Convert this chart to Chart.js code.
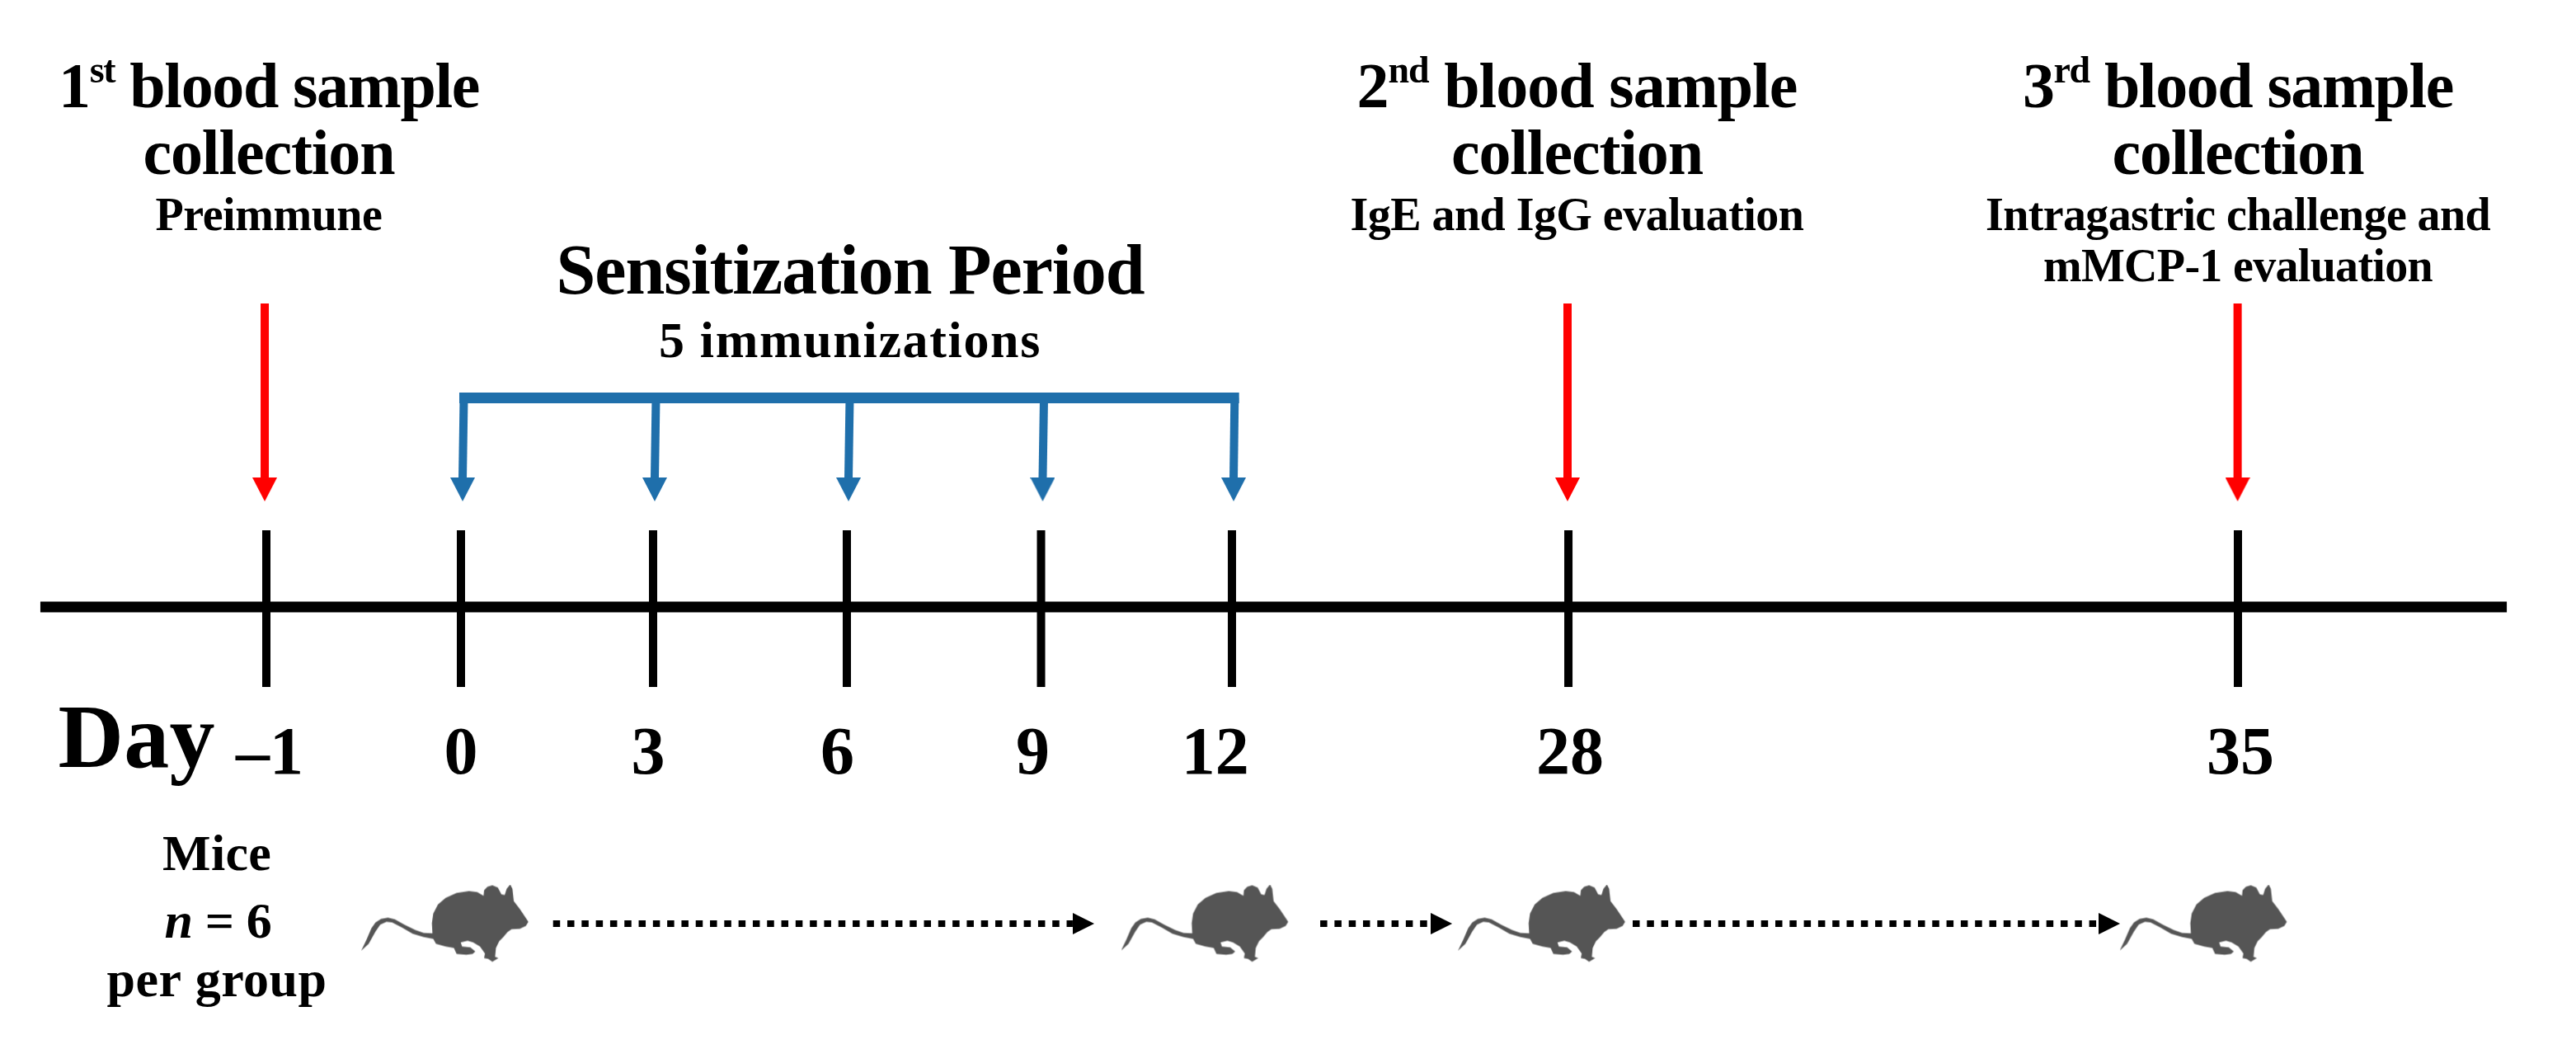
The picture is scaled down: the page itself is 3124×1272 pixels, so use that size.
<!DOCTYPE html>
<html>
<head>
<meta charset="utf-8">
<title>Immunization timeline</title>
<script src="https://cdn.jsdelivr.net/npm/chart.js@4"></script>
<style>
  html, body { margin: 0; padding: 0; background: #fff; }
  canvas { display: block; }
</style>
</head>
<body>
<canvas id="timeline" width="3124" height="1272"></canvas>
<script>
// Days on the timeline. The axis is not to scale, so each day has a slot (1 slot = spacing of 3 days)
const dayLabels = ['\u20131', '0', '3', '6', '9', '12', '28', '35'];
const daySlots = [-1.0096, 0, 0.9968, 2.002, 3.0096, 4, 5.7455, 9.219];
const dayLabelSlots = [-0.9925, 0, 0.971, 1.9525, 2.967, 3.913, 5.754, 9.232];

// Blood samples (red arrows) and immunizations (blue arrows)
const sampleSlots = [-1.018, 5.741, 9.2174];
const doseTopSlots = [0.015, 1.0118, 2.0171, 3.0246, 4.014];
const doseTipSlots = [0.0086, 1.0053, 2.0107, 3.018, 4.0086];

// Mice and the dotted arrows between them
const mouseSlots = [-0.081, 3.861, 5.609, 9.042];
const dottedFrom = [0.478, 4.458, 6.079];
const dottedTo = [3.174, 5.031, 8.496];
const dottedHeads = [3.23, 5.087, 8.552];

const sampleTitles = [['blood sample', 'collection'], ['blood sample', 'collection'], ['blood sample', 'collection']];
const sampleOrdinals = [['1', 'st'], ['2', 'nd'], ['3', 'rd']];
const sampleNotes = [['Preimmune'], ['IgE and IgG evaluation'], ['Intragastric challenge and', 'mMCP-1 evaluation']];
const periodTitle = 'Sensitization Period';
const periodNote = '5 immunizations';
const dayTitle = 'Day';
const miceLines = ['Mice', ['n', ' = 6'], 'per group'];

const SERIF = '"Liberation Serif", serif';
const RED = '#ff0000', BLUE = '#1f6fab', MOUSE = '#555555';

// outline of the mouse at 3x
const mouseOutline = [[153,1000],[172,960],[190,918],[205,897],[225,884],[250,880],[275,886],[310,905],[350,925],[380,935],[412,937],[410,900],[415,865],[432,832],[460,808],[500,790],[545,783],[575,787],[598,800],[600,780],[612,767],[630,762],[650,770],[663,795],[675,797],[682,775],[695,759],[703,775],[708,820],[730,848],[748,875],[761,895],[752,910],[730,920],[700,922],[685,932],[670,950],[655,965],[643,990],[640,1022],[652,1027],[630,1040],[615,1030],[600,1027],[603,1010],[585,985],[560,970],[540,964],[515,970],[520,985],[550,988],[568,1003],[558,1012],[535,1015],[500,1012],[490,990],[460,985],[425,975],[415,957],[380,950],[340,938],[300,915],[265,897],[245,895],[222,905],[205,930],[180,975]];

function makeMouse() {
  const c = document.createElement('canvas');
  c.width = 204; c.height = 95;
  const g = c.getContext('2d');
  g.fillStyle = MOUSE;
  g.beginPath();
  mouseOutline.forEach(function(p, i) {
    const x = (p[0] - 153) / 3, y = (p[1] - 759) / 3;
    if (i === 0) g.moveTo(x, y); else g.lineTo(x, y);
  });
  g.closePath();
  g.fill();
  return c;
}

// arrow head pointing down, rotated by pointRotation where needed
function makeHead(w, h, color) {
  const c = document.createElement('canvas');
  c.width = w; c.height = h;
  const g = c.getContext('2d');
  g.fillStyle = color;
  g.beginPath();
  g.moveTo(0, 0); g.lineTo(w, 0); g.lineTo(w / 2, h);
  g.closePath();
  g.fill();
  return c;
}

function line(points, color, width, dash) {
  return {
    type: 'line', data: points, borderColor: color, borderWidth: width,
    borderDash: dash || [], pointRadius: 0, fill: false, tension: 0, borderCapStyle: 'butt'
  };
}

function heads(points, image, rotation) {
  return {
    type: 'scatter', data: points, pointStyle: image, pointRotation: rotation || 0,
    pointRadius: 10, showLine: false
  };
}

const datasets = [];
// main line and day ticks
datasets.push(line([{x: -2.182, y: 0}, {x: 10.614, y: 0}], '#000', 13));
daySlots.forEach(function(s) {
  datasets.push(line([{x: s, y: 93}, {x: s, y: -97}], '#000', 10));
});
// red arrows
sampleSlots.forEach(function(s) {
  datasets.push(line([{x: s, y: 368}, {x: s, y: 156}], RED, 10));
});
datasets.push(heads(sampleSlots.map(function(s) { return {x: s, y: 142.5}; }), makeHead(30, 29, RED)));
// blue bracket
datasets.push(line([{x: -0.0086, y: 253.5}, {x: 4.037, y: 253.5}], BLUE, 13));
doseTopSlots.forEach(function(s, i) {
  datasets.push(line([{x: s, y: 253.5}, {x: doseTipSlots[i], y: 156}], BLUE, 10));
});
datasets.push(heads(doseTipSlots.map(function(s) { return {x: s, y: 142.5}; }), makeHead(30, 29, BLUE)));
// dotted arrows and mice
dottedFrom.forEach(function(s, i) {
  datasets.push(line([{x: s, y: -384}, {x: dottedTo[i], y: -384}], '#000', 8, [8.5, 8.8]));
});
datasets.push(heads(dottedHeads.map(function(s) { return {x: s, y: -384}; }), makeHead(26, 26, '#000'), -90));
datasets.push(heads(mouseSlots.map(function(s) { return {x: s, y: -384}; }), makeMouse()));

// line of text made of parts, centred on cx, squeezed/stretched to the measured width
function drawParts(ctx, parts, cx, baseline, targetWidth) {
  let total = 0;
  let chars = 0;
  parts.forEach(function(p) {
    ctx.font = (p.italic ? 'italic ' : '') + 'bold ' + p.size + 'px ' + SERIF;
    ctx.letterSpacing = '0px';
    total += ctx.measureText(p.text).width;
    chars += p.text.length;
  });
  const spacing = targetWidth ? (targetWidth - total) / chars : 0;
  let x = cx - (total + spacing * chars) / 2;
  parts.forEach(function(p) {
    ctx.font = (p.italic ? 'italic ' : '') + 'bold ' + p.size + 'px ' + SERIF;
    ctx.letterSpacing = spacing + 'px';
    ctx.fillText(p.text, x, baseline - (p.rise || 0));
    x += ctx.measureText(p.text).width;
  });
}

const textPlugin = {
  id: 'timelineText',
  afterDatasetsDraw: function(chart) {
    const ctx = chart.ctx;
    const px = function(s) { return chart.scales.x.getPixelForValue(s); };
    const py = function(b) { return chart.scales.y.getPixelForValue(736 - b); };
    ctx.save();
    ctx.fillStyle = '#000';
    ctx.textAlign = 'left';
    ctx.textBaseline = 'alphabetic';

    // blood sample headings
    const titleSlots = [-0.9968, 5.79, 9.219];
    const titleWidths = [[510, 305], [534, 305], [522, 305]];
    const noteWidths = [[275], [550], [612, 472]];
    sampleTitles.forEach(function(lines, i) {
      const cx = px(titleSlots[i]);
      drawParts(ctx, [
        {text: sampleOrdinals[i][0], size: 78},
        {text: sampleOrdinals[i][1], size: 46, rise: 30},
        {text: ' ' + lines[0], size: 78}
      ], cx, py(130), titleWidths[i][0]);
      drawParts(ctx, [{text: lines[1], size: 78}], cx, py(211), titleWidths[i][1]);
      sampleNotes[i].forEach(function(note, j) {
        drawParts(ctx, [{text: note, size: 56}], cx, py(279 + j * 62), noteWidths[i][j]);
      });
    });

    // sensitization period
    drawParts(ctx, [{text: periodTitle, size: 86}], px(2.019), py(356), 713);
    drawParts(ctx, [{text: periodNote, size: 62}], px(2.019), py(433), 464);

    // "Day" and the mice note
    drawParts(ctx, [{text: dayTitle, size: 110}], px(-1.683), py(930), 190);
    drawParts(ctx, [{text: miceLines[0], size: 62}], px(-1.266), py(1055), 132);
    drawParts(ctx, [{text: miceLines[1][0], size: 62, italic: true}, {text: miceLines[1][1], size: 62}], px(-1.26), py(1137), 130);
    drawParts(ctx, [{text: miceLines[2], size: 62}], px(-1.266), py(1208), 267);
    ctx.restore();
  }
};

new Chart(document.getElementById('timeline').getContext('2d'), {
  data: { datasets: datasets },
  plugins: [textPlugin],
  options: {
    responsive: false,
    animation: false,
    devicePixelRatio: 1,
    layout: { padding: 0, autoPadding: false },
    plugins: { legend: { display: false }, title: { display: false }, tooltip: { enabled: false } },
    scales: {
      x: {
        type: 'linear',
        min: -2.3914,
        max: 10.973,
        position: { y: -132 },
        grid: { display: false, drawTicks: false },
        border: { display: false },
        afterBuildTicks: function(scale) {
          scale.ticks = dayLabelSlots.map(function(s) { return {value: s}; });
        },
        ticks: {
          autoSkip: false,
          maxRotation: 0,
          padding: 0,
          color: '#000',
          font: { family: SERIF, size: 82, weight: 'bold' },
          callback: function(value, index) { return dayLabels[index]; }
        }
      },
      y: { type: 'linear', min: -536, max: 736, display: false }
    }
  }
});
</script>
</body>
</html>
